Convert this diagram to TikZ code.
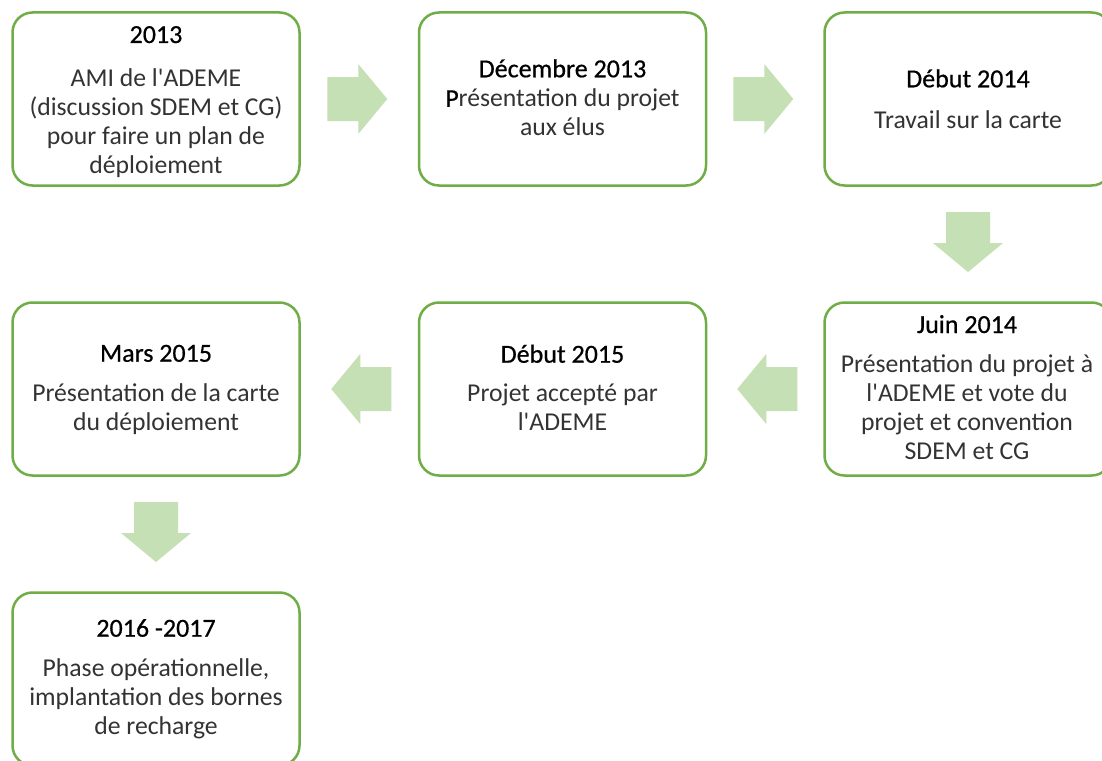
\documentclass[tikz,border=0pt]{standalone}
\usepackage{fontspec}
\setmainfont{Carlito}
\newfontfamily\titlefont{Carlito}[FakeBold=0.6]
\usetikzlibrary{calc}
\definecolor{boxline}{HTML}{70AD47}
\definecolor{arrowfill}{HTML}{C5E0B4}
\definecolor{bodytext}{HTML}{333333}
\begin{document}
\begin{tikzpicture}[x=1pt,y=-1pt,
  stepbox/.style={draw=boxline, line width=2.5pt, rounded corners=20pt, fill=white,
    minimum width=287pt, minimum height=173pt, inner sep=0pt},
  titletext/.style={anchor=base, inner sep=0pt, font=\titlefont\fontsize{26}{29}\selectfont, text=black},
  bodynode/.style={anchor=north, inner sep=0pt, align=center,
    font=\fontsize{25.7}{29}\selectfont, text=bodytext},
  blockarrow/.pic={\fill[arrowfill] (-30,-22) -- (1,-22) -- (1,-35) -- (30,0) -- (1,35) -- (1,22) -- (-30,22) -- cycle;}
]
\useasboundingbox (0,0) rectangle (1102,760);
\clip (0,0) rectangle (1102,760);
\fill[white] (0,0) rectangle (1102,760);

% boxes
\node[stepbox] (b1) at (156,99) {};
\node[stepbox] (b2) at (562.5,99) {};
\node[stepbox] (b3) at (968,99) {};
\node[stepbox] (b6) at (968,389) {};
\node[stepbox] (b5) at (562.5,389) {};
\node[stepbox] (b4) at (156,389) {};
\node[stepbox] (b7) at (156,679) {};

% box 1
\node[titletext] (t1) at (156,43) {2013};
\node[bodynode] (x1) at (156,65.7) {\strut AMI de l\textquotesingle ADEME\\(discussion SDEM et CG)\\pour faire un plan de\\déploiement};
% box 2
\node[titletext] (t2) at (562.5,77.3) {Décembre 2013};
\node[bodynode] (x2) at (562.5,86.4) {\strut{\titlefont\color{black}P}résentation du projet\\aux élus};
% box 3
\node[titletext] (t3) at (968,87.3) {Début 2014};
\node[bodynode] (x3) at (968,108) {\strut Travail sur la carte};
% box 6
\node[titletext] (t6) at (967,333) {Juin 2014};
\node[bodynode] (x6) at (967,352.4) {\strut Présentation du projet à\\l\textquotesingle ADEME et vote du\\projet et convention\\SDEM et CG};
% box 5
\node[titletext] (t5) at (562.5,362.7) {Début 2015};
\node[bodynode] (x5) at (562.5,381.4) {\strut Projet accepté par\\l\textquotesingle ADEME};
% box 4
\node[titletext] (t4) at (156,361.7) {Mars 2015};
\node[bodynode] (x4) at (156,381.4) {\strut Présentation de la carte\\du déploiement};
% box 7
\node[titletext] (t7) at (156,636.7) {2016 -2017};
\node[bodynode] (x7) at (156,655.7) {\strut Phase opérationnelle,\\implantation des bornes\\de recharge};

% block arrows
\pic at ($(b1.east)!0.5!(b2.west)+(-2,0)$) {blockarrow};
\pic at ($(b2.east)!0.5!(b3.west)+(-2,0)$) {blockarrow};
\pic[rotate=-90] at ($(b3.south)!0.5!(b6.north)+(0,-2)$) {blockarrow};
\pic[rotate=180] at ($(b6.west)!0.5!(b5.east)+(2,0)$) {blockarrow};
\pic[rotate=180] at ($(b5.west)!0.5!(b4.east)+(2,0)$) {blockarrow};
\pic[rotate=-90] at ($(b4.south)!0.5!(b7.north)+(0,-2)$) {blockarrow};
\end{tikzpicture}
\end{document}
